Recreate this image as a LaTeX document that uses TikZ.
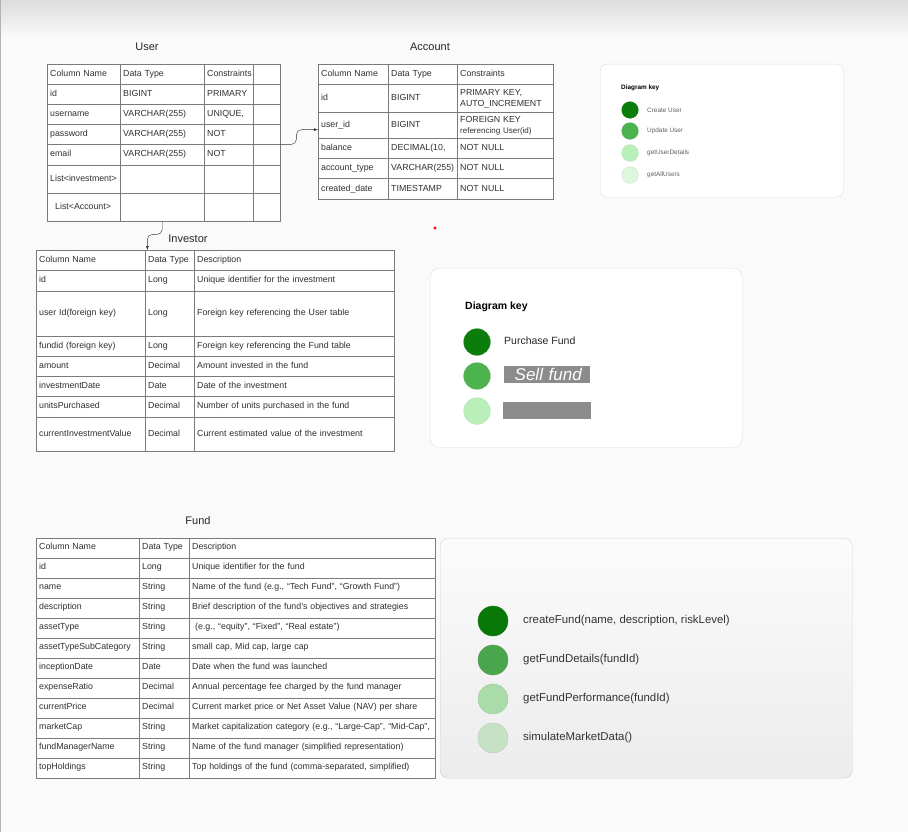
\documentclass[tikz,border=0pt]{standalone}
\usepackage{fontspec}
\setmainfont{Liberation Sans}
\usepackage{tikz}
\usepackage{xcolor}
\usetikzlibrary{positioning, calc, shadings}

\definecolor{tabline}{HTML}{7A7A7A}
\definecolor{tabtext}{HTML}{303030}
\definecolor{keyA}{HTML}{0B7D0B}
\definecolor{keyB}{HTML}{4DB34F}
\definecolor{keyC}{HTML}{B9EFB9}
\definecolor{keyD}{HTML}{DDF6DD}
\definecolor{fundA}{HTML}{087808}
\definecolor{fundB}{HTML}{4AA64C}
\definecolor{fundC}{HTML}{A9DCA9}
\definecolor{fundD}{HTML}{C5E2C5}
\definecolor{barfill}{HTML}{8C8C8C}

\begin{document}
\begin{tikzpicture}[x=1pt, y=-1pt,
  cell/.style={rectangle, draw=tabline, fill=white, anchor=north west, inner xsep=3pt, inner ysep=0pt, align=left, text=tabtext, font={\fontsize{8.8}{10.5}\selectfont\hyphenpenalty=10000 }},
  title/.style={font=\fontsize{11}{13}\selectfont, text=black!85},
  keybox/.style={rectangle, rounded corners=7pt, draw=gray!25, fill=white, anchor=north west},
  keydot/.style={circle, minimum size=#1, inner sep=0pt},
  keytext/.style={anchor=west, inner sep=0pt},
  bar/.style={rectangle, fill=barfill, anchor=north west, inner sep=0pt}]

\useasboundingbox (0,0) rectangle (908,832);
\fill[gray!4] (0,0) rectangle (908,832);
\shade[top color=gray!27, bottom color=gray!4] (0,0) rectangle (908,38);
\draw[gray!60, line width=1.2pt] (0.6,0) -- (0.6,832);

% User table
\node[title] (user-title) at (147,47) {User};
\foreach \ty/\rowh/\colA/\colB/\colC [count=\r] in {
    64/20/Column Name/Data Type/Constraints,
    84/20/id/BIGINT/PRIMARY,
    104/20/username/VARCHAR(255)/{UNIQUE,},
    124/20/password/VARCHAR(255)/NOT,
    144/21/email/VARCHAR(255)/NOT,
    165/28/List<investment>/{}/{},
    193/28/{\hspace{5pt}List<Account>}/{}/{}}
{
  \node[cell, text width=67pt, minimum height=\rowh] (user-\r-1) at (47,\ty) {\strut\colA\strut};
  \node[cell, text width=78pt, minimum height=\rowh] (user-\r-2) at (120,\ty) {\strut\colB\strut};
  \node[cell, text width=43pt, minimum height=\rowh] (user-\r-3) at (204,\ty) {\strut\colC\strut};
  \node[cell, text width=21pt, minimum height=\rowh] (user-\r-4) at (253,\ty) {};
}

% Account table
\node[title] (acc-title) at (430,47) {Account};
\foreach \ty/\rowh/\colA/\colB/\colC [count=\r] in {
    64/20.5/Column Name/Data Type/Constraints,
    84.5/28/id/BIGINT/{PRIMARY KEY,\\AUTO\_INCREMENT},
    112.5/26/user\_id/BIGINT/{FOREIGN KEY\\{\fontsize{8}{9}\selectfont referencing User(id)}},
    138.5/20/balance/{DECIMAL(10,}/NOT NULL,
    158.5/20/account\_type/VARCHAR(255)/NOT NULL,
    178.5/20.5/created\_date/TIMESTAMP/NOT NULL}
{
  \node[cell, text width=64pt, minimum height=\rowh] (acc-\r-1) at (318,\ty) {\strut\colA\strut};
  \node[cell, text width=63pt, minimum height=\rowh] (acc-\r-2) at (388,\ty) {\strut\colB\strut};
  \node[cell, text width=90pt, minimum height=\rowh] (acc-\r-3) at (457,\ty) {\strut\colC\strut};
}

% Investor table
\node[title] (inv-title) at (188,239) {Investor};
\foreach \ty/\rowh/\colA/\colB/\colC [count=\r] in {
    250/20/Column Name/Data Type/Description,
    270/21/id/Long/Unique identifier for the investment,
    291/45/user Id(foreign key)/Long/Foreign key referencing the User table,
    336/20/fundid (foreign key)/Long/Foreign key referencing the Fund table,
    356/20/amount/Decimal/Amount invested in the fund,
    376/20/investmentDate/Date/Date of the investment,
    396/21/unitsPurchased/Decimal/Number of units purchased in the fund,
    417/34/currentInvestmentValue/Decimal/Current estimated value of the investment}
{
  \node[cell, text width=103pt, minimum height=\rowh] (inv-\r-1) at (36,\ty) {\strut\colA\strut};
  \node[cell, text width=43pt, minimum height=\rowh] (inv-\r-2) at (145,\ty) {\strut\colB\strut};
  \node[cell, text width=194pt, minimum height=\rowh] (inv-\r-3) at (194,\ty) {\strut\colC\strut};
}

% Fund table
\node[title] (fund-title) at (198,521) {Fund};
\foreach \colA/\colB/\colC [count=\r] in {
    Column Name/Data Type/Description,
    id/Long/Unique identifier for the fund,
    name/String/{Name of the fund (e.g., ``Tech Fund'', ``Growth Fund'')},
    description/String/Brief description of the fund's objectives and strategies,
    assetType/String/{\hspace{3pt}(e.g., ``equity'', ``Fixed'', ``Real estate'')},
    assetTypeSubCategory/String/{small cap, Mid cap, large cap},
    inceptionDate/Date/Date when the fund was launched,
    expenseRatio/Decimal/Annual percentage fee charged by the fund manager,
    currentPrice/Decimal/Current market price or Net Asset Value (NAV) per share,
    marketCap/String/{\mbox{Market capitalization category (e.g., ``Large-Cap'', ``Mid-Cap'',}},
    fundManagerName/String/Name of the fund manager (simplified representation),
    topHoldings/String/{Top holdings of the fund (comma-separated, simplified)}}
{
  \pgfmathsetmacro\ty{537.5+20*(\r-1)}
  \node[cell, text width=97pt, minimum height=20] (fund-\r-1) at (36,\ty) {\strut\colA\strut};
  \node[cell, text width=44pt, minimum height=20] (fund-\r-2) at (139,\ty) {\strut\colB\strut};
  \node[cell, text width=240pt, minimum height=20] (fund-\r-3) at (189,\ty) {\strut\colC\strut};
}

% links
\draw[-latex, rounded corners=5pt, black!80] (user-4-4.south east) -- ++(16,0) |- ([yshift=-4pt]acc-3-1.west);
\draw[-latex, rounded corners=5pt, black!80] (user-7-2.south) -- ++(0,13) -| ([xshift=2pt]inv-1-1.north east);

% small key
\node[keybox, minimum width=243, minimum height=133] (ukey) at (600,64) {};
\node[keytext, font=\bfseries\fontsize{6.4}{7.5}\selectfont] (ukey-title) at (621,88) {Diagram key};
\foreach \yy/\cl/\txt [count=\k] in {110/keyA/Create User, 131/keyB/Update User, 153/keyC/getUserDetails, 175/keyD/getAllUsers}
{
  \node[keydot=16.6, fill=\cl, draw=\cl!85!gray] (ukey-dot\k) at (630,\yy) {};
  \node[keytext, text=gray!75!black, font=\fontsize{6.4}{7.5}\selectfont] (ukey-lbl\k) at (647,\yy) {\txt};
}

% fund action key
\node[keybox, minimum width=312, minimum height=179, rounded corners=9pt] (fkey) at (430,268) {};
\node[keytext, font=\bfseries\fontsize{10.5}{12}\selectfont] (fkey-title) at (465,307) {Diagram key};
\node[keydot=26.6, fill=keyA, draw=keyA!85!gray] (fkey-dot1) at (477,342) {};
\node[keydot=26.6, fill=keyB, draw=keyB!85!gray] (fkey-dot2) at (477,376) {};
\node[keydot=26.6, fill=keyC, draw=keyC!85!gray] (fkey-dot3) at (477,411) {};
\node[keytext, font=\fontsize{10.5}{12}\selectfont, text=black!85] (fkey-lbl1) at (504,341) {Purchase Fund};
\node[bar, minimum width=86, text width=79pt, inner xsep=0pt, align=left, text height=14.3pt, text depth=2.7pt, text=white, font=\itshape\fontsize{17}{18}\selectfont] (fkey-lbl2) at (504,366) {\hspace{7pt}Sell fund};
\node[bar, minimum width=88, minimum height=16.5] (fkey-lbl3) at (503,402) {};

% fund method key
\node[keybox, minimum width=412, minimum height=240, rounded corners=8pt, draw=gray!35, top color=white!97!gray, bottom color=gray!15] (mkey) at (440,538) {};
\foreach \yy/\cl/\txt [count=\k] in {621/fundA/{createFund(name, description, riskLevel)}, 660/fundB/getFundDetails(fundId), 699/fundC/getFundPerformance(fundId), 738/fundD/simulateMarketData()}
{
  \node[keydot=30, fill=\cl, draw=\cl!80!gray] (mkey-dot\k) at (493,\yy) {};
  \node[keytext, text=black!80, font=\fontsize{11.4}{13}\selectfont] (mkey-lbl\k) at (523,\yy) {\txt};
}

\fill[red] (435,228) circle (1.6pt);
\end{tikzpicture}
\end{document}
